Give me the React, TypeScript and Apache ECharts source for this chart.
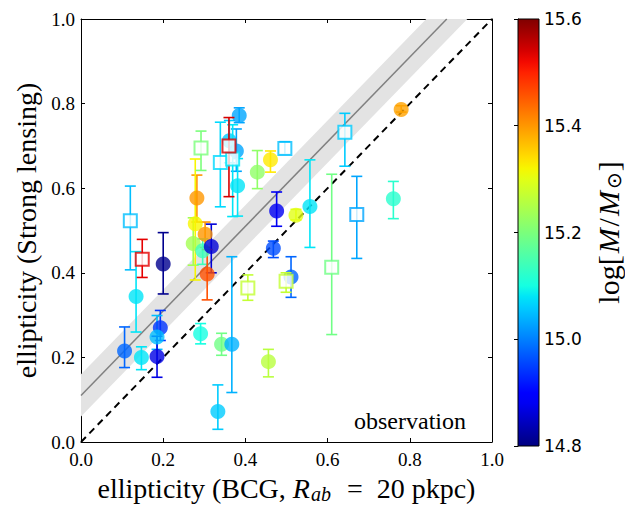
import React, { useEffect, useRef } from "react";
import * as echarts from "echarts";

// ---- circles (filled markers) ----
const circleX = [0.385, 0.361, 0.378, 0.381, 0.282, 0.278, 0.273, 0.302, 0.296, 0.317, 0.307, 0.429, 0.461, 0.476, 0.468, 0.523, 0.557, 0.511, 0.291, 0.342, 0.367, 0.456, 0.779, 0.76, 0.134, 0.106, 0.147, 0.193, 0.185, 0.185, 0.333, 0.2];
const circleY = [0.772, 0.712, 0.688, 0.606, 0.577, 0.516, 0.469, 0.491, 0.452, 0.462, 0.397, 0.638, 0.667, 0.546, 0.458, 0.536, 0.557, 0.39, 0.256, 0.231, 0.231, 0.19, 0.786, 0.575, 0.344, 0.215, 0.2, 0.27, 0.248, 0.202, 0.072, 0.421];
const circleLo = [0.755, 0.66, 0.64, 0.534, 0.52, 0.383, 0.418, 0.46, 0.42, 0.4, 0.336, 0.599, 0.638, 0.51, 0.436, 0.525, 0.46, 0.342, 0.232, 0.205, 0.117, 0.154, 0.78, 0.528, 0.26, 0.176, 0.171, 0.24, 0.219, 0.153, 0.03, 0.35];
const circleHi = [0.79, 0.76, 0.74, 0.67, 0.631, 0.669, 0.53, 0.52, 0.48, 0.515, 0.455, 0.689, 0.688, 0.591, 0.475, 0.55, 0.667, 0.438, 0.28, 0.257, 0.438, 0.219, 0.795, 0.616, 0.45, 0.272, 0.225, 0.311, 0.299, 0.25, 0.135, 0.495];
const circleMass = [15.03, 15.06, 15.03, 15.08, 15.4, 15.32, 15.24, 15.4, 15.14, 14.86, 15.46, 15.22, 15.33, 14.88, 14.96, 15.3, 15.08, 14.98, 15.1, 15.19, 15.04, 15.26, 15.39, 15.12, 15.08, 14.98, 15.08, 14.94, 15.05, 14.87, 15.06, 14.81];

// ---- squares (open markers) ----
const squareX = [0.12, 0.149, 0.292, 0.339, 0.369, 0.36, 0.496, 0.642, 0.671, 0.61, 0.406, 0.499];
const squareY = [0.523, 0.432, 0.695, 0.661, 0.669, 0.7, 0.694, 0.732, 0.538, 0.413, 0.364, 0.38];
const squareLo = [0.407, 0.389, 0.642, 0.556, 0.533, 0.58, 0.68, 0.652, 0.434, 0.254, 0.335, 0.354];
const squareHi = [0.605, 0.479, 0.735, 0.756, 0.75, 0.767, 0.71, 0.777, 0.628, 0.633, 0.395, 0.4];
const squareMass = [15.05, 15.53, 15.2, 15.07, 15.08, 15.54, 15.05, 15.06, 15.03, 15.19, 15.27, 15.27];

// ---- fit line and band ----
const fitSlope = 1.0;
const fitIntercept = 0.11;
const fitBand = 0.05;

// ---- axes ----
const axisTicks = [0, 0.2, 0.4, 0.6, 0.8, 1.0];
const massMin = 14.8;
const massMax = 15.6;
const massTicks = [14.8, 15.0, 15.2, 15.4, 15.6];

function interp(pts: number[][], t: number): number {
  for (let i = 0; i < pts.length - 1; i++) {
    const [t0, v0] = pts[i];
    const [t1, v1] = pts[i + 1];
    if (t >= t0 && t <= t1) return v0 + ((v1 - v0) * (t - t0)) / (t1 - t0);
  }
  return pts[pts.length - 1][1];
}

function jet(tRaw: number): string {
  const t = Math.max(0, Math.min(1, tRaw));
  const r = interp([[0, 0], [0.35, 0], [0.66, 1], [0.89, 1], [1, 0.5]], t);
  const g = interp([[0, 0], [0.125, 0], [0.375, 1], [0.64, 1], [0.91, 0], [1, 0]], t);
  const b = interp([[0, 0.5], [0.11, 1], [0.34, 1], [0.65, 0], [1, 0]], t);
  return `rgb(${Math.round(r * 255)},${Math.round(g * 255)},${Math.round(b * 255)})`;
}

const massColor = (m: number) => jet((m - massMin) / (massMax - massMin));

const SERIF = "'Liberation Serif', 'Times New Roman', serif";

function errRender(params: any, api: any) {
  const x = api.value(0);
  const lo = api.value(1);
  const hi = api.value(2);
  const c = massColor(api.value(3));
  const pTop = api.coord([x, hi]);
  const pBot = api.coord([x, lo]);
  const cap = 5.5;
  const st = { stroke: c, lineWidth: 1.6 };
  return {
    type: "group",
    children: [
      { type: "line", shape: { x1: pTop[0], y1: pTop[1], x2: pBot[0], y2: pBot[1] }, style: st },
      { type: "line", shape: { x1: pTop[0] - cap, y1: pTop[1], x2: pTop[0] + cap, y2: pTop[1] }, style: st },
      { type: "line", shape: { x1: pBot[0] - cap, y1: pBot[1], x2: pBot[0] + cap, y2: pBot[1] }, style: st },
    ],
  };
}

export default function App() {
  const ref = useRef<HTMLDivElement>(null);
  useEffect(() => {
    document.body.style.margin = "0";
    if (!ref.current) return;
    const chart = echarts.init(ref.current, undefined, { renderer: "svg" });

    const circleErr = circleX.map((x, i) => [x, circleLo[i], circleHi[i], circleMass[i]]);
    const squareErr = squareX.map((x, i) => [x, squareLo[i], squareHi[i], squareMass[i]]);
    const circleData = circleX.map((x, i) => ({
      value: [x, circleY[i]],
      itemStyle: { color: massColor(circleMass[i]) },
    }));
    const squareData = squareX.map((x, i) => ({
      value: [x, squareY[i]],
      itemStyle: { color: "#ffffff", borderColor: massColor(squareMass[i]), borderWidth: 2 },
    }));

    const gradStops: any[] = [];
    for (let i = 0; i <= 40; i++) {
      const f = i / 40;
      gradStops.push({ offset: f, color: jet(1 - f) });
    }

    const xEnd = (1 - fitIntercept) / fitSlope;
    const axisMin = axisTicks[0];
    const axisMax = axisTicks[axisTicks.length - 1];
    const axisInterval = axisTicks[1] - axisTicks[0];

    const baseAxis = {
      type: "value",
      min: axisMin,
      max: axisMax,
      interval: axisInterval,
      splitLine: { show: false },
      axisLine: { show: true, onZero: false, lineStyle: { color: "#000", width: 1 } },
      axisTick: { show: true, inside: true, length: 4, lineStyle: { color: "#000" } },
    };

    chart.setOption({
      animation: false,
      grid: [
        { left: 81, top: 19, width: 411, height: 426 },
        { left: 518, top: 19, width: 22, height: 427 },
      ],
      xAxis: [
        {
          ...baseAxis,
          gridIndex: 0,
          position: "bottom",
          axisLabel: { color: "#000", fontFamily: SERIF, fontSize: 19, margin: 8, formatter: (v: number) => v.toFixed(1) },
          name: "ellipticity (BCG, {i|R}{s|ab}{n|  =  20 pkpc)}",
          nameLocation: "middle",
          nameGap: 30,
          nameTextStyle: {
            color: "#000",
            fontFamily: SERIF,
            fontSize: 28,
            rich: {
              i: { fontFamily: SERIF, fontSize: 28, fontStyle: "italic", color: "#000" },
              s: { fontFamily: SERIF, fontSize: 20, fontStyle: "italic", color: "#000", padding: [12, 2, 0, 1] },
              n: { fontFamily: SERIF, fontSize: 28, color: "#000" },
            },
          },
        },
        { ...baseAxis, gridIndex: 0, position: "top", axisLabel: { show: false } },
        { type: "value", gridIndex: 1, min: 0, max: 1, show: false },
      ],
      yAxis: [
        {
          ...baseAxis,
          gridIndex: 0,
          position: "left",
          axisLabel: { color: "#000", fontFamily: SERIF, fontSize: 19, margin: 6, formatter: (v: number) => v.toFixed(1) },
          name: "ellipticity (Strong lensing)",
          nameLocation: "middle",
          nameGap: 35,
          nameTextStyle: { color: "#000", fontFamily: SERIF, fontSize: 28 },
        },
        { ...baseAxis, gridIndex: 0, position: "right", axisLabel: { show: false } },
        {
          type: "value",
          gridIndex: 1,
          position: "right",
          min: massTicks[0],
          max: massTicks[massTicks.length - 1],
          interval: 0.2,
          splitLine: { show: false },
          axisLine: { show: true, lineStyle: { color: "#000", width: 1 } },
          axisTick: { show: true, inside: true, length: 4, lineStyle: { color: "#000" } },
          axisLabel: { color: "#000", fontFamily: "'DejaVu Sans', sans-serif", fontSize: 17, margin: 5, formatter: (v: number) => v.toFixed(1) },
          name: "log[{i|M}/{i|M}{s|⊙}]",
          nameLocation: "middle",
          nameRotate: 90,
          nameGap: 53,
          nameTextStyle: {
            color: "#000",
            fontFamily: SERIF,
            fontSize: 30,
            rich: {
              i: { fontFamily: SERIF, fontSize: 30, fontStyle: "italic", color: "#000", padding: [0, 2, 0, 2] },
              s: { fontFamily: "'DejaVu Sans', sans-serif", fontSize: 20, color: "#000", padding: [12, 1, 0, 0] },
            },
          },
        },
      ],
      series: [
        {
          type: "custom",
          xAxisIndex: 0,
          yAxisIndex: 0,
          silent: true,
          data: [[0]],
          renderItem: (params: any, api: any) => {
            const p1 = api.coord([0, fitIntercept - fitBand]);
            const p2 = api.coord([0, fitIntercept + fitBand]);
            const p3 = api.coord([(1 - fitIntercept - fitBand) / fitSlope, 1]);
            const p4 = api.coord([(1 - fitIntercept + fitBand) / fitSlope, 1]);
            return { type: "polygon", shape: { points: [p1, p2, p3, p4] }, style: { fill: "#e3e3e3" } };
          },
          z: 1,
        },
        {
          type: "line",
          xAxisIndex: 0,
          yAxisIndex: 0,
          silent: true,
          symbol: "none",
          data: [[0, fitIntercept], [xEnd, 1]],
          lineStyle: { color: "#808080", width: 1.5 },
          z: 2,
        },
        {
          type: "line",
          xAxisIndex: 0,
          yAxisIndex: 0,
          silent: true,
          symbol: "none",
          data: [[0, 0], [1, 1]],
          lineStyle: { color: "#000", width: 2, type: [7, 5] },
          z: 2,
        },
        {
          type: "custom",
          xAxisIndex: 0,
          yAxisIndex: 0,
          silent: true,
          data: circleErr,
          renderItem: errRender,
          z: 3,
        },
        {
          type: "scatter",
          xAxisIndex: 0,
          yAxisIndex: 0,
          silent: true,
          symbol: "circle",
          symbolSize: 15,
          data: circleData,
          z: 4,
        },
        {
          type: "custom",
          xAxisIndex: 0,
          yAxisIndex: 0,
          silent: true,
          data: squareErr,
          renderItem: errRender,
          z: 5,
        },
        {
          type: "scatter",
          xAxisIndex: 0,
          yAxisIndex: 0,
          silent: true,
          symbol: "rect",
          symbolSize: 13,
          data: squareData,
          z: 6,
        },
        {
          type: "custom",
          xAxisIndex: 2,
          yAxisIndex: 2,
          silent: true,
          data: [[0]],
          renderItem: (params: any, api: any) => {
            const p0 = api.coord([0, massMax]);
            const p1 = api.coord([1, massMin]);
            return {
              type: "rect",
              shape: { x: p0[0], y: p0[1], width: p1[0] - p0[0], height: p1[1] - p0[1] },
              style: {
                fill: new echarts.graphic.LinearGradient(0, 0, 0, 1, gradStops),
                stroke: "#000",
                lineWidth: 1,
              },
            };
          },
        },
      ],
      graphic: [
        {
          type: "text",
          right: 625 - 466,
          top: 409,
          style: { text: "observation", fontFamily: SERIF, fontSize: 24, fill: "#000" },
        },
      ],
    });
    return () => chart.dispose();
  }, []);
  return <div ref={ref} style={{ width: 625, height: 509 }} />;
}
